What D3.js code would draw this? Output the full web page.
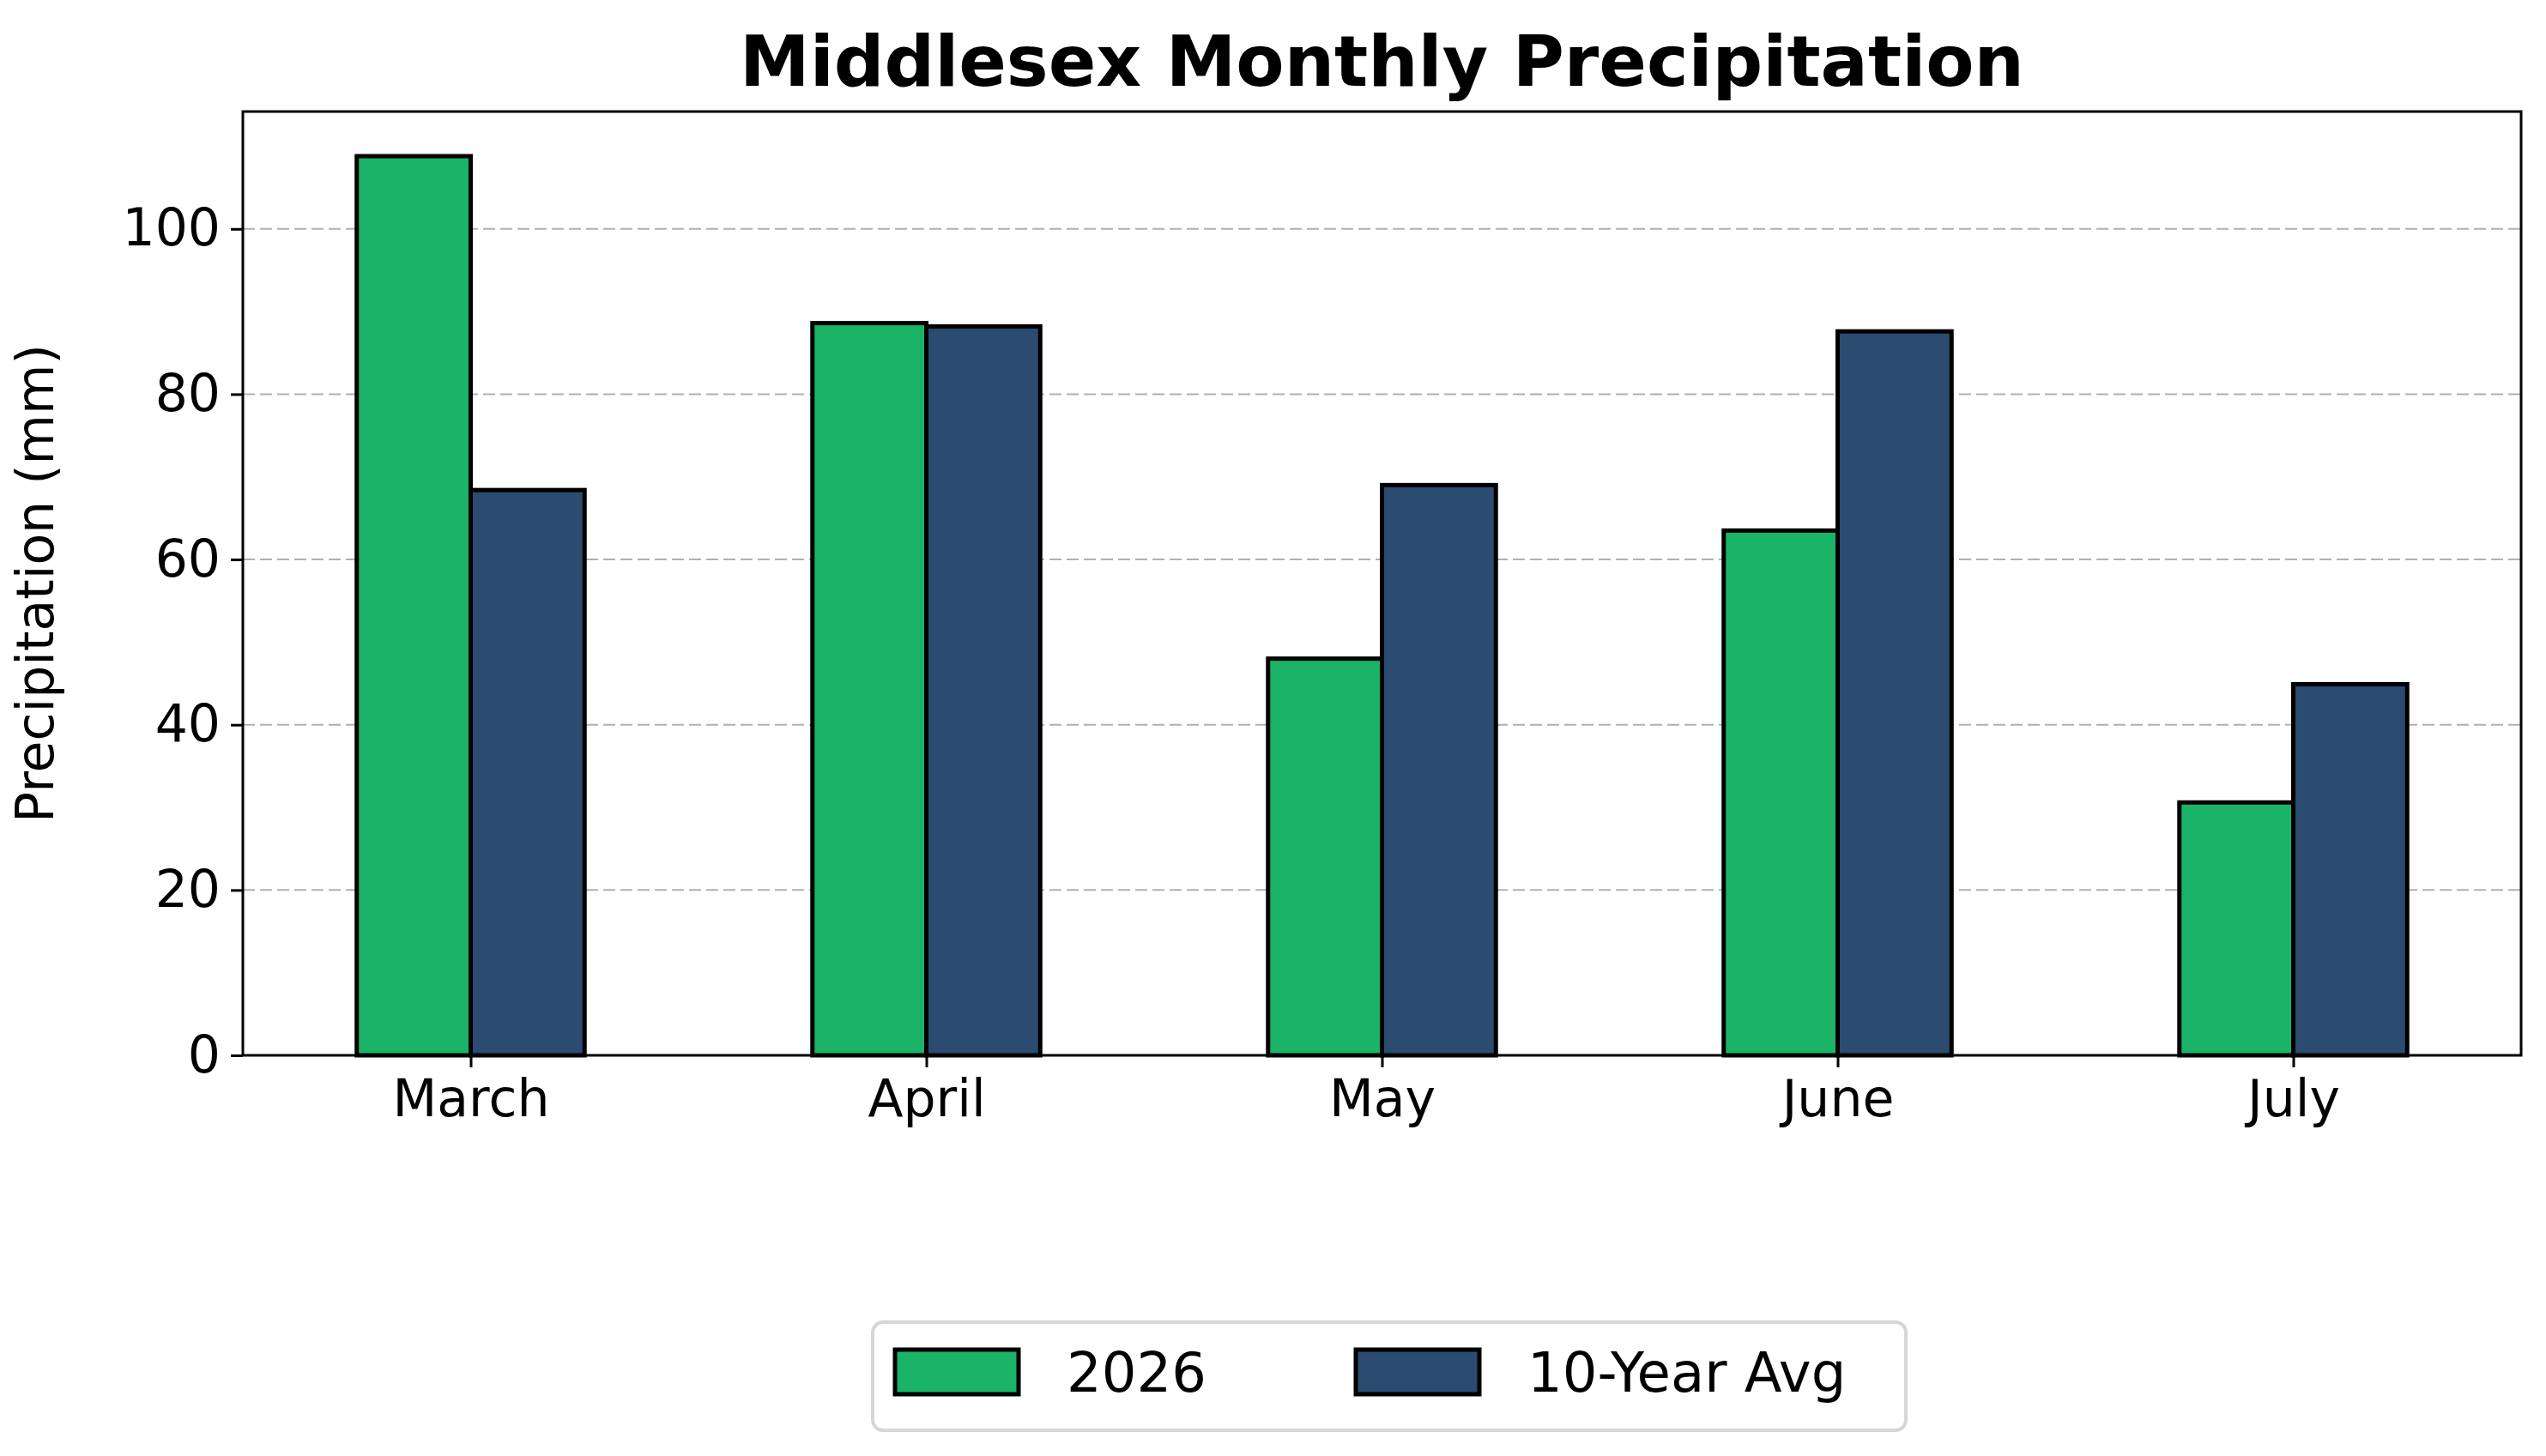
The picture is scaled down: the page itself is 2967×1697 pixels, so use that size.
<!DOCTYPE html>
<html><head><meta charset="utf-8">
<script src="https://cdn.jsdelivr.net/npm/d3@7"></script>
<style>body{margin:0;background:#fff;} text{font-family:"DejaVu Sans",sans-serif;}</style>
</head><body>
<svg id="chart" width="2967" height="1697"></svg>
<script>
const months = ["March", "April", "May", "June", "July"];
const precip2026 = [108.8, 88.6, 48.0, 63.5, 30.6];
const avg10 = [68.4, 88.2, 69.0, 87.6, 44.9];
const yTicks = [0, 20, 40, 60, 80, 100];
const seriesNames = ["2026", "10-Year Avg"];
const colors = ["#1ab367", "#2b4b71"];

const margin = { top: 130, right: 29, bottom: 467, left: 283 };
const W = 2967, H = 1697;

let svg = d3.select("#chart");

let x = d3.scaleLinear().domain([-0.5, 4.5]).range([margin.left, W - margin.right]);
let y = d3.scaleLinear().domain([0, 114.2]).range([H - margin.bottom, margin.top]);

// grid
svg.append("g").selectAll("line").data(yTicks.slice(1)).enter().append("line")
    .attr("x1", margin.left).attr("x2", W - margin.right)
    .attr("y1", d => y(d)).attr("y2", d => y(d))
    .attr("stroke", "#b0b0b0").attr("stroke-width", 2).attr("stroke-dasharray", "14,6");

// bars
const bw = 0.25;
[precip2026, avg10].forEach((vals, s) => {
    svg.append("g").selectAll("rect").data(vals).enter().append("rect")
        .attr("x", (d, i) => x(i - bw + s * bw))
        .attr("y", d => y(d))
        .attr("width", x(bw) - x(0))
        .attr("height", d => y(0) - y(d))
        .attr("fill", colors[s])
        .attr("stroke", "#000").attr("stroke-width", 5);
});

// axes
let yAxis = svg.append("g").attr("transform", "translate(" + margin.left + ",0)")
    .call(d3.axisLeft(y).tickValues(yTicks).tickSize(14).tickPadding(12));
let xAxis = svg.append("g").attr("transform", "translate(0," + (H - margin.bottom) + ")")
    .call(d3.axisBottom(x).tickValues(d3.range(months.length)).tickFormat(i => months[i]).tickSize(14).tickPadding(14));
[yAxis, xAxis].forEach(a => {
    a.select(".domain").remove();
    a.selectAll("line").attr("stroke-width", 3);
    a.selectAll("text").attr("font-size", 60).attr("fill", "#000").style("font-family", "DejaVu Sans");
});

svg.append("rect")
    .attr("x", margin.left).attr("y", margin.top)
    .attr("width", W - margin.right - margin.left).attr("height", H - margin.bottom - margin.top)
    .attr("fill", "none").attr("stroke", "#000").attr("stroke-width", 3);

svg.append("text").attr("x", (margin.left + W - margin.right) / 2).attr("y", 100)
    .attr("text-anchor", "middle").attr("font-size", 82).attr("font-weight", "bold")
    .text("Middlesex Monthly Precipitation");

svg.append("text").attr("transform", "translate(62," + ((margin.top + H - margin.bottom) / 2) + ") rotate(-90)")
    .attr("text-anchor", "middle").attr("font-size", 60)
    .text("Precipitation (mm)");

// legend
let lg = svg.append("g");
lg.append("rect").attr("x", 1017).attr("y", 1541).attr("width", 1204).attr("height", 126)
    .attr("rx", 12).attr("fill", "#fff").attr("stroke", "#d6d6d6").attr("stroke-width", 4);
const legX = [1043, 1580];
seriesNames.forEach((n, s) => {
    lg.append("rect").attr("x", legX[s]).attr("y", 1573).attr("width", 144).attr("height", 52)
        .attr("fill", colors[s]).attr("stroke", "#000").attr("stroke-width", 5);
    lg.append("text").attr("x", legX[s] + 200).attr("y", 1622).attr("font-size", 64).text(n);
});
</script>
</body></html>
